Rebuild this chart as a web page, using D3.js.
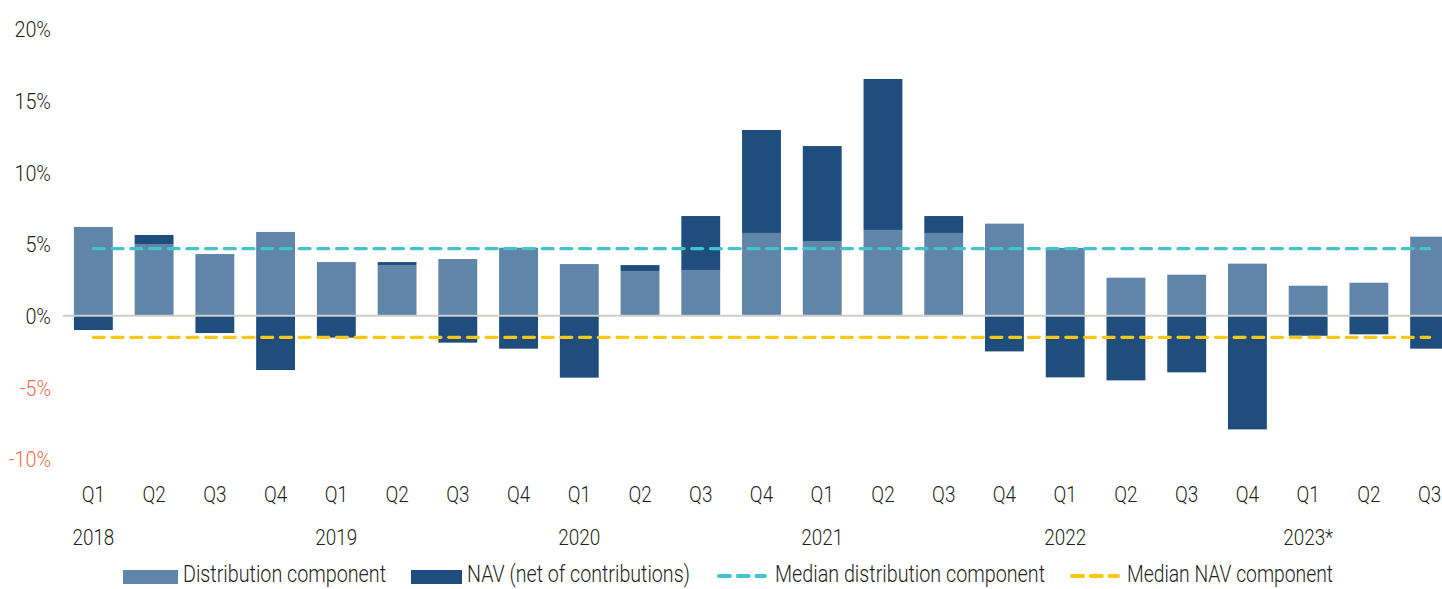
<!DOCTYPE html>
<html>
<head>
<meta charset="utf-8">
<script src="https://cdn.jsdelivr.net/npm/d3@7"></script>
<style>
  body { margin: 0; background: #fff; }
  text { font-family: Roboto, 'Noto Sans', sans-serif; font-weight: 300; fill: #231f20; }
</style>
</head>
<body>
<div id="wrapper"></div>
<script>
// data
const quarters = ['Q1','Q2','Q3','Q4','Q1','Q2','Q3','Q4','Q1','Q2','Q3','Q4',
                  'Q1','Q2','Q3','Q4','Q1','Q2','Q3','Q4','Q1','Q2','Q3'];
const years = ['2018','','','','2019','','','','2020','','','','2021','','','',
               '2022','','','','2023*','',''];
const distribution = [6.19, 5.00, 4.30, 5.84, 3.74, 3.53, 3.95, 4.74, 3.60, 3.12, 3.19, 5.77,
                      5.21, 5.98, 5.77, 6.42, 4.72, 2.65, 2.86, 3.63, 2.09, 2.30, 5.51];
const nav = [-1.00, 0.63, -1.21, -3.79, -1.53, 0.21, -1.88, -2.30, -4.32, 0.41, 3.76, 7.18,
             6.62, 10.53, 1.18, -2.49, -4.30, -4.51, -3.95, -7.93, -1.40, -1.30, -2.30];
const medianDistribution = 4.68;
const medianNav = -1.51;
const yTicks = [-10, -5, 0, 5, 10, 15, 20];
const legendLabels = ['Distribution component', 'NAV (net of contributions)',
                      'Median distribution component', 'Median NAV component'];

const colors = {
  dist: '#6085a8',
  nav: '#1f4e7e',
  medDist: '#45c3cc',
  medNav: '#f9c814',
  zero: '#cfcdca',
  neg: '#f26b4c'
};

const dimensions = { width: 1442, height: 589 };
const fontSize = '22px';
const squeeze = 'scale(0.86,1)';

const wrapper = d3.select('#wrapper')
  .append('svg')
  .attr('width', dimensions.width)
  .attr('height', dimensions.height);

// scales
const xScale = d3.scaleBand()
  .domain(d3.range(quarters.length))
  .range([63, 1460])
  .paddingInner(0.36)
  .paddingOuter(0.18);

const yScale = d3.scaleLinear()
  .domain([-10, 20])
  .range([459.1, 28.9]);

// bars: distribution from 0, NAV stacked on top if positive, below 0 if negative
const bars = wrapper.append('g');

bars.selectAll('.dist')
  .data(distribution)
  .join('rect')
  .attr('class', 'dist')
  .attr('x', (d, i) => xScale(i))
  .attr('width', xScale.bandwidth())
  .attr('y', d => yScale(d))
  .attr('height', d => yScale(0) - yScale(d))
  .attr('fill', colors.dist);

bars.selectAll('.nav')
  .data(nav)
  .join('rect')
  .attr('class', 'nav')
  .attr('x', (d, i) => xScale(i))
  .attr('width', xScale.bandwidth())
  .attr('y', (d, i) => d >= 0 ? yScale(distribution[i] + d) : yScale(0))
  .attr('height', (d, i) => d >= 0
    ? yScale(distribution[i]) - yScale(distribution[i] + d)
    : yScale(d) - yScale(0))
  .attr('fill', colors.nav);

// zero line
wrapper.append('line')
  .attr('x1', 63)
  .attr('x2', dimensions.width)
  .attr('y1', yScale(0))
  .attr('y2', yScale(0))
  .attr('stroke', colors.zero)
  .attr('stroke-width', 2);

// median lines
const firstCenter = xScale(0) + xScale.bandwidth() / 2;
const lastCenter = xScale(quarters.length - 1) + xScale.bandwidth() / 2;
[[medianDistribution, colors.medDist], [medianNav, colors.medNav]].forEach(([v, c]) => {
  wrapper.append('line')
    .attr('x1', firstCenter)
    .attr('x2', lastCenter)
    .attr('y1', yScale(v))
    .attr('y2', yScale(v))
    .attr('stroke', c)
    .attr('stroke-width', 3.2)
    .attr('stroke-linecap', 'round')
    .attr('stroke-dasharray', '11 7.7');
});

// y axis
const yAxis = wrapper.append('g')
  .attr('transform', 'translate(51,0)')
  .call(d3.axisLeft(yScale).tickValues(yTicks).tickSize(0).tickPadding(0)
    .tickFormat(d => d + '%'));
yAxis.select('.domain').remove();
yAxis.selectAll('text')
  .style('font-size', fontSize)
  .style('font-family', null)
  .attr('dy', '0.35em')
  .attr('transform', 'scale(0.9,1)')
  .style('fill', d => d < 0 ? colors.neg : '#231f20');

// x axis: quarters
const xAxis = wrapper.append('g')
  .attr('transform', 'translate(0,486)')
  .call(d3.axisBottom(xScale).tickSize(0).tickPadding(0).tickFormat(i => quarters[i]));
xAxis.select('.domain').remove();
xAxis.selectAll('text')
  .style('font-size', fontSize)
  .style('font-family', null)
  .attr('transform', squeeze);

// x axis: years
const yearAxis = wrapper.append('g')
  .attr('transform', 'translate(0,529)')
  .call(d3.axisBottom(xScale).tickSize(0).tickPadding(0).tickFormat(i => years[i]));
yearAxis.select('.domain').remove();
yearAxis.selectAll('text')
  .style('font-size', fontSize)
  .style('font-family', null)
  .attr('transform', squeeze);

// legend (kept a few px higher so descenders stay inside the picture)
const legend = wrapper.append('g');
const legendY = 575;
const legendItems = [
  { type: 'rect', color: colors.dist, x0: 123, x1: 178, tx: 183, tw: 203 },
  { type: 'rect', color: colors.nav, x0: 411, x1: 462, tx: 467, tw: 223 },
  { type: 'dash', color: colors.medDist, x0: 717, x1: 767, tx: 775, tw: 270 },
  { type: 'dash', color: colors.medNav, x0: 1070, x1: 1120, tx: 1127, tw: 206 }
];
legendItems.forEach((item, i) => {
  if (item.type === 'rect') {
    legend.append('rect')
      .attr('x', item.x0)
      .attr('y', legendY - 5)
      .attr('width', item.x1 - item.x0)
      .attr('height', 14)
      .attr('fill', item.color);
  } else {
    legend.append('line')
      .attr('x1', item.x0 + 2)
      .attr('x2', item.x1 - 2)
      .attr('y1', legendY + 1)
      .attr('y2', legendY + 1)
      .attr('stroke', item.color)
      .attr('stroke-width', 4)
      .attr('stroke-linecap', 'round')
      .attr('stroke-dasharray', '11 7.7');
  }
  legend.append('text')
    .attr('x', item.tx)
    .attr('y', legendY - 1)
    .attr('dy', '0.35em')
    .attr('textLength', item.tw)
    .attr('lengthAdjust', 'spacingAndGlyphs')
    .style('font-size', '24px')
    .text(legendLabels[i]);
});
</script>
</body>
</html>
